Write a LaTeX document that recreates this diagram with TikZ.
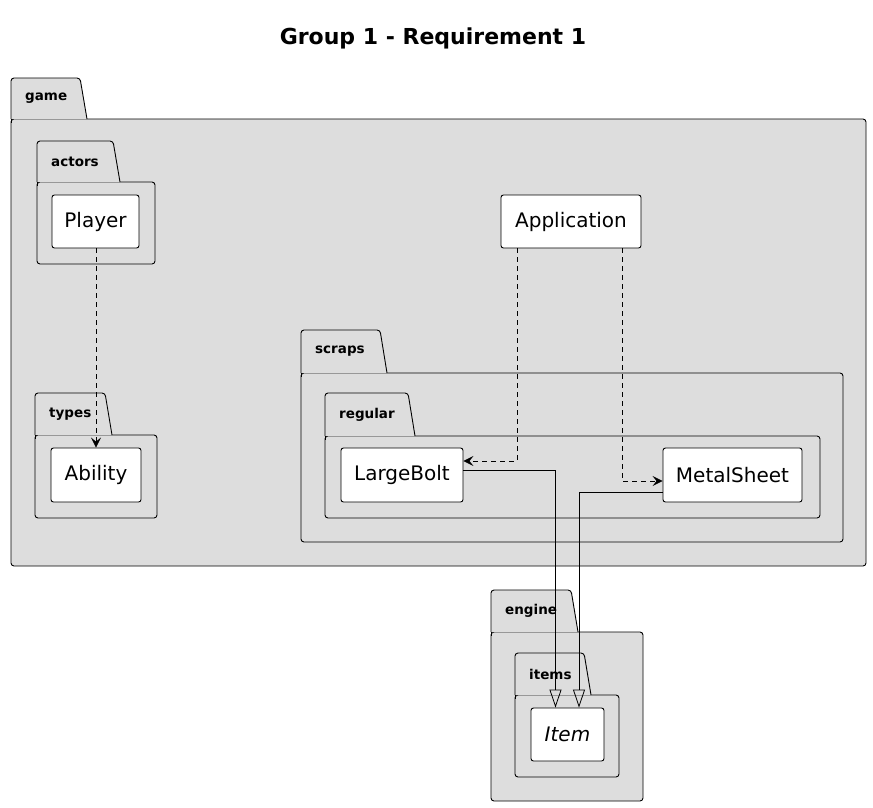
\documentclass[tikz,border=0pt]{standalone}
\usepackage{fontspec}
\setmainfont{DejaVu Sans}
\usepackage{tikz}
\usetikzlibrary{arrows.meta, positioning}
\definecolor{pkggray}{HTML}{DDDDDD}

% #1 left, #2 tab top, #3 tab right, #4 body top, #5 body right, #6 body bottom, #7 name, #8 label
\newcommand{\umlpkg}[8]{%
    \filldraw[pkgbox,rounded corners=3pt] (#1,#4) rectangle (#5,#6);
    \filldraw[pkgbox,rounded corners=3pt] (#1,#4) -- (#1,#2) -- ({#3-7},#2) -- (#3,#4);
    \draw[pkgbox] (#1,#4) -- (#1,{#4+4});
    \node[pkglabel] (#7) at ({#1+14},{(#2+#4)/2}) {#8};
}

\begin{document}
\begin{tikzpicture}[x=1pt,y=-1pt,
    pkgbox/.style={draw=black,fill=pkggray,line width=0.9pt},
    pkglabel/.style={anchor=west,inner sep=0pt,font=\fontsize{13.5}{16}\selectfont\bfseries},
    cls/.style={rectangle,draw=black,fill=white,rounded corners=2.5pt,line width=0.9pt,inner sep=0pt,font=\fontsize{20}{24}\selectfont},
    dep/.style={line width=0.8pt,dash pattern=on 5pt off 4pt,-{Stealth[length=10pt,width=10pt,inset=4pt]}},
    inh/.style={line width=0.8pt,-{Triangle[open,length=18pt,width=12pt]}}]
    \useasboundingbox (0,0) rectangle (873,807);

    % Titel
    \node[font=\fontsize{22}{26}\selectfont\bfseries] (title) at (433,38) {Group 1 - Requirement 1};

    % Pakete
    \umlpkg{11}{78}{87}{119}{866}{566}{game}{game}
    \umlpkg{37}{141}{120}{182}{155}{264}{actors}{actors}
    \umlpkg{35}{393}{112}{435}{157}{518}{types}{types}
    \umlpkg{301}{330}{387}{373}{843}{542}{scraps}{scraps}
    \umlpkg{325}{393}{415}{436}{820}{518}{regular}{regular}
    \umlpkg{491}{590}{578}{632}{643}{801}{engine}{engine}
    \umlpkg{515}{653}{591}{695}{619}{777}{items}{items}

    % Klassen
    \node[cls,minimum width=87pt,minimum height=53pt] (player) at (95.5,221.5) {Player};
    \node[cls,minimum width=90pt,minimum height=54pt] (ability) at (96,475) {Ability};
    \node[cls,minimum width=140pt,minimum height=53pt] (app) at (571,221.5) {Application};
    \node[cls,minimum width=122pt,minimum height=54pt] (lbolt) at (402,475) {LargeBolt};
    \node[cls,minimum width=139pt,minimum height=54pt] (msheet) at (732.5,475) {MetalSheet};
    \node[cls,minimum width=73pt,minimum height=53pt] (item) at (567.5,734.5) {\itshape Item};

    % Abhaengigkeiten
    \draw[dep] ([xshift=0.5pt]player.south) -- ([xshift=0.5pt]player.south |- ability.north);
    \draw[dep] ([xshift=-54pt]app.south) |- ([yshift=14pt]lbolt.east);
    \draw[dep] ([xshift=51pt]app.south) |- ([yshift=-6pt]msheet.west);

    % Vererbung
    \draw[inh] ([yshift=5pt]lbolt.east) -| ([xshift=-12pt]item.north);
    \draw[inh] ([yshift=-17pt]msheet.west) -| ([xshift=11.5pt]item.north);
\end{tikzpicture}
\end{document}
